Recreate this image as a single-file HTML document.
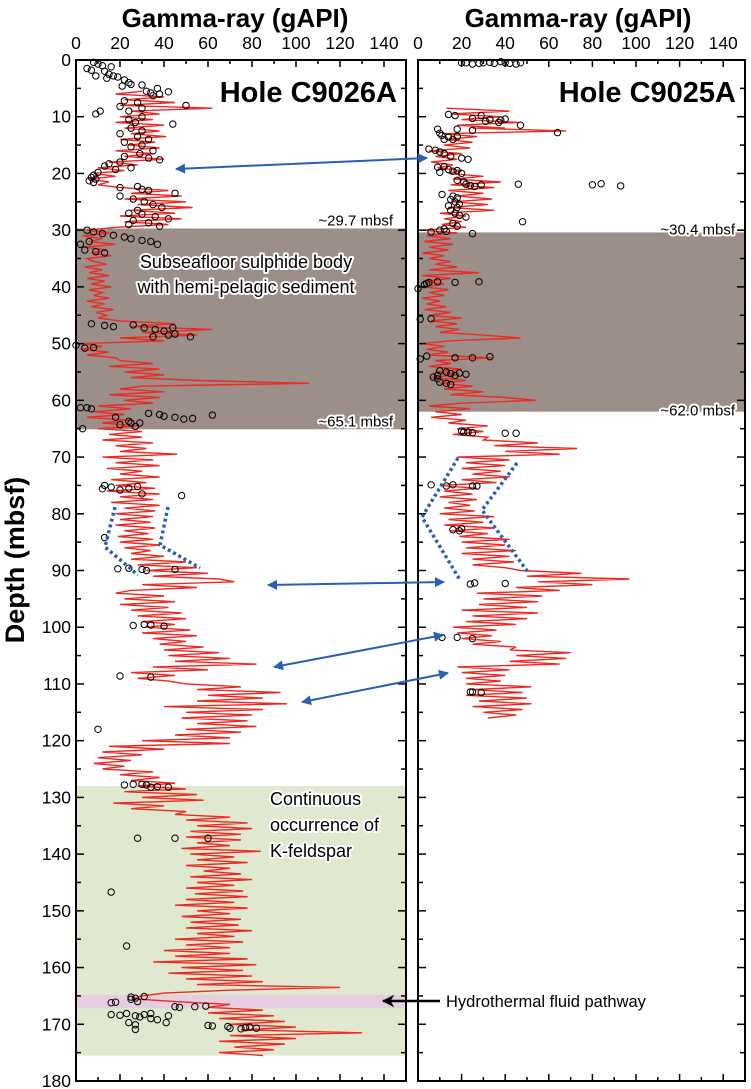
<!DOCTYPE html>
<html><head><meta charset="utf-8">
<style>
html,body{margin:0;padding:0;background:#fff;}
svg{display:block;font-family:"Liberation Sans",Arial,sans-serif;}
.halo{paint-order:stroke;stroke:#fff;stroke-width:4px;stroke-linejoin:round;}
</style></head>
<body>
<svg id="chart" width="751" height="1089" viewBox="0 0 751 1089" xmlns="http://www.w3.org/2000/svg">
</svg>
<script>
// ---- data ----
const xTicks = [0,20,40,60,80,100,120,140];
const yTicks = [0,10,20,30,40,50,60,70,80,90,100,110,120,130,140,150,160,170,180];
// shaded zones [top, bottom] in mbsf
const sulphideLeft = [29.7, 65.1];
const sulphideRight = [30.4, 62.0];
const kfeldsparZone = [128, 175.5];
const fluidZone = [164.8, 167.2];
// gamma-ray log segments: [start depth, values at 0.5 m steps]
const logLeft = [
 [5.5,[30,18,40,22,45,20,62,25,38]],
 [10,[20,35,18,40,22,38,25,41,20,36,24,38,18,35,22,40]],
 [18,[15,28,10,22,8,18,6,15,10]],
 [22.5,[20,42,25,48,22,50,28,53,25,45,20,48,22,42,18]],
 [30,[5,15,3,12,6,18,4,14,7,16,5]],
 [35.5,[8,14,4,12,6,15,5,13,7,16,6,12,8,15,5,13,7,17,9,14,10]],
 [46,[20,45,25,62,30,55,20,40]],
 [50,[3,12,2,15,5,18]],
 [53,[20,35,15,38,22,40,25,55]],
 [57,[106,30]],
 [58,[20,40,15,38,22,35,10,25]],
 [62,[8,22,5,25,12,28,10,30]],
 [66,[15,30,12,35,18,32,20,46]],
 [70,[12,35,18,38,14,30,20,38,16,32,18,36]],
 [76,[14,38,20,35,16,38,22,36]],
 [80,[18,35,20,34,18,36,22,33,19,35,20,38,22,34,25,40]],
 [88,[25,50,28,55,32,60,35,65]],
 [92,[72,30,55,25]],
 [94,[18,40,22,45,20,42,25,48]],
 [98,[28,50,30,45,32,52,30,55,35,50,38,58]],
 [104,[40,65,42,70,45,82,35,60]],
 [108,[25,45,28,42]],
 [110,[50,75,55,93,60,85,55,96]],
 [114,[40,85,50,80,48,78,55,82,50,75,45,70]],
 [120,[30,70,15,40]],
 [122,[12,30,10,25,8,22,12,35]],
 [126,[20,38,25,45,28,50]],
 [129,[22,55,30,58,17,40,25,50]],
 [133,[45,70,50,78,55,80,52,75]],
 [137,[50,75,55,70,48,84,52,72,55,78,50,70,58,75,52,80,55,72,50,76,54,78]],
 [148,[50,72,45,78,55,70,48,75,52,74,50,80,55,72,45,76,50,70]],
 [157,[40,70,45,78,35,82,48,76,42,80,50,85,55,120]],
 [164,[70,40,30,26,45,70,60,85]],
 [168,[60,90,65,95,70,100,75,130,70,100,65,95,72,90,65,85]]
];
const logRight = [
 [8.5,[13,42,15,38,20,46,18,40]],
 [12,[25,68]],
 [13,[11,27,13,25,12,24]],
 [16,[5,20,8,18,6,16,9,20]],
 [20,[14,30,16,38]],
 [22,[15,35,14,30,18,34,16,32,14,35]],
 [27,[10,22,12,20,11,22]],
 [30,[2,18,4,15,3,16,5,14,2,12]],
 [35,[5,15,8,18,5,28]],
 [38,[2,15,4,12,3,14,5,12,2,10,4,13,3,15]],
 [45,[5,20,6,18,8,19,10,30]],
 [49,[47,15,2,12,4,14]],
 [52,[5,34,8,15]],
 [54,[5,20,8,18,6,22,10,25,12,30,15,40]],
 [60,[54,20]],
 [61,[5,24,8,20,6,22]],
 [64,[14,32,18,30,16,32]],
 [67,[30,55,35,73,40,65]],
 [70,[18,42,22,40,20,38,25,42,20,36]],
 [75,[10,27,12,25,10,27,14,24,12,26]],
 [80,[10,35,14,30,12,35,15,32]],
 [84,[19,42,20,40,22,45,20,42,25,44,25,40]],
 [90,[47,75,50,97,55,80,45,65]],
 [94,[27,57,30,55,28,50]],
 [97,[20,55,25,50,22,45]],
 [100,[16,36,18,34,20,38,25,45]],
 [104,[42,70,45,68,42,65]],
 [107,[18,42,20,40,22,38]],
 [110,[22,52,25,48,22,50,28,52,25,48,30,45,32]]
];
// core sample measurements [depth, gAPI]
const coreLeft = [[0.4,8],[0.7,10],[1,12],[1.5,5],[1.8,7],[2,13],[2.5,15],[2.8,17],[3,19],[3.5,22],[4,24],[4.3,25],[2.8,9],[3.2,14],[1.2,16],
 [4.4,30],[4.6,21],[5,37],[5.5,32],[5.8,34],[6,38],[6.3,35],[5.6,42],[7.2,22],[7.5,28],[8,50],[8.5,30],[8.2,20],[9,24],[9.5,9],[9,11],
 [10,30],[10.5,24],[11,27],[11.3,44],[12,25],[12.5,30],[13,20],[13.5,28],[14,33],[14.5,22],[15,30],[15.3,25],[16,35],[16.5,29],[17,22],[17.3,33],[17.6,38],
 [18,20],[18.3,15],[18.7,13],[19,25],[19.3,18],[19.8,10],[20.3,8],[20.7,7],[21,9],[21.3,6],[21.6,8],[22.5,20],[22.3,28],
 [22.8,30],[23,33],[23.5,45],[24,20],[24.5,26],[25,31],[25.5,35],[26,39],[26.5,28],[27,24],[27.2,30],[27.6,36],[28,42],[28.3,26],[29,24],[28.7,33],[29.3,38],
 [30,5],[30.3,8],[30.6,12],[30.9,17],[31.2,22],[31.5,25],[31.8,30],[32,34],[32.5,37],[32,6],[32.5,2],[33.5,4],[33.8,9],[34,13],
 [46.5,7],[46.8,13],[47,17],[46.7,26],[47.2,31],[47.5,36],[47.8,40],[48.3,45],[48.8,52],[48.5,42],[48.8,35],[47.2,44],
 [50.3,0],[50.8,4],[50.7,8],
 [61.3,2],[61.3,5],[61.5,7],[62.5,38],[62.3,33],[62.8,40],[63,45],[63.3,49],[63.2,53],[62.6,62],[63.7,24],[64,25],[64.3,20],[64,29],[64.6,27],[63,18],[65,3],
 [75,13],[75.6,12],[75.3,16],[75.8,20],[75.5,24],[75.2,28],[76.5,30],[76.8,48],[84.2,13],
 [89.7,19],[89.6,24],[89.8,30],[90,32],[89.8,45],[99.7,26],[99.5,31],[99.6,34],[99.8,40],[108.6,20],[108.8,34],[118,10],
 [127.8,22],[127.7,26],[127.7,30],[127.8,32],[128.2,34],[128.1,37],[128.2,42],[137.2,28],[137.2,45],[137.2,60],[146.7,16],[156.2,23],
 [165.2,25],[165.4,27],[165.6,25],[165.1,31],[166.2,16],[166.1,18],[166,28],[166.9,45],[167,47],[166.9,54],[166.8,59],
 [168.3,16],[168.4,20],[168.1,23],[168.7,29],[168.3,31],[168.1,34],[168.5,27],[169,34],[169.2,37],[168.5,42],[169.7,24],[170.1,27],[169.7,41],
 [170.2,60],[170.3,62],[170.4,69],[170.7,70],[170.8,75],[170.6,77],[170.7,82],[170.5,79],[170.9,27]];
const coreRight = [[0.5,20],[0.5,22],[0.7,25],[0.6,28],[0.5,30],[0.4,33],[0.6,35],[0.3,38],[0.5,40],[0.6,42],[0.7,45],[0.5,47],
 [9.6,14],[9.8,17],[10.3,25],[9.8,29],[10.5,33],[10.8,31],[11,37],[10.6,38],[10.4,40],[11.5,47],[12.4,25],[12.8,64],
 [12.2,9],[12.9,10],[13.3,11],[13.6,14],[14,12],[14,16],[13.5,18],[12.2,18],
 [15.7,5],[15.9,8],[16.2,10],[16.5,12],[17,15],[17.3,20],[17.5,23],[18.9,9],[18.8,12],[19.3,14],[19.6,16],[19.8,10],[19.5,18],[20,20],
 [21.2,18],[21.5,21],[22.1,24],[21.9,22],[22,29],[22.3,26],[22,80],[21.8,84],[22.2,93],[21.9,46],
 [23.7,11],[24,16],[24.3,18],[24.6,15],[25,17],[25.4,19],[25.7,14],[26,18],[26.5,15],[27,17],[27.4,19],[27.7,22],[28.5,48],[28.8,16],
 [29.3,18],[29.8,12],[30,10],[30.2,13],[30.3,6],[30.6,25],
 [39.4,4],[39.2,5],[39.6,3],[40.3,0],[39.1,9],[39.2,17],[39.1,28],[45.7,1],[45.6,6],
 [52.2,4],[52.7,1],[52.5,17],[52.5,25],[52.3,33],
 [54.8,10],[55,13],[55.3,15],[55.6,17],[55.2,19],[55.9,7],[56.2,9],[55.4,22],[55.6,9],[56.8,10],[57,13],[57.2,15],
 [65.4,20],[65.6,21],[65.6,23],[65.7,25],[65.8,40],[65.8,45],
 [74.9,6],[75.1,13],[74.9,16],[75.1,25],[75.1,27],[82.8,16],[83,19],[82.6,20],
 [92.4,24],[92.2,26],[92.3,40],[101.8,11],[101.8,18],[102,25],[111.4,24],[111.4,25],[111.5,29]];

// ---- geometry ----
const TOP=60, BOT=1081;
const panels = {
  left:{x0:76, x1:406},
  right:{x0:418, x1:745}
};
const yS = d => TOP + d/180*(BOT-TOP);
const xS = (p,v) => p.x0 + v/150*(p.x1-p.x0);

const svg = document.getElementById('chart');
const NS='http://www.w3.org/2000/svg';
function mk(tag, attrs, parent){
  const e=document.createElementNS(NS,tag);
  for(const k in attrs) e.setAttribute(k,attrs[k]);
  (parent||svg).appendChild(e);
  return e;
}

function zone(p, z, fill, name){
  const r=mk('rect',{x:p.x0,y:yS(z[0]),width:p.x1-p.x0,height:yS(z[1])-yS(z[0]),fill:fill});
  
  
}
zone(panels.left, kfeldsparZone, '#e0e9cf', 'k-feldspar-zone');
zone(panels.left, fluidZone, '#e7cde0', 'fluid-pathway-zone');
zone(panels.left, sulphideLeft, '#9c8e88', 'sulphide-zone-left');
zone(panels.right, sulphideRight, '#9c8e88', 'sulphide-zone-right');

function drawLog(p, segs, name){
  const pts=[];
  segs.forEach(s=>{ s[1].forEach((v,i)=>{ pts.push(xS(p,v).toFixed(1)+','+yS(s[0]+i*0.5).toFixed(1)); }); });
  const pl=mk('polyline',{points:pts.join(' '),fill:'none',stroke:'#ec2a24','stroke-width':1.4,'stroke-linejoin':'miter'});
  
  
}
drawLog(panels.left, logLeft, 'gamma-log-c9026a');
drawLog(panels.right, logRight, 'gamma-log-c9025a');

function drawCore(p, arr, name){
  const g=mk('g',{fill:'none',stroke:'#000','stroke-width':1});
  
  
  arr.forEach(a=>{
    const c=mk('circle',{cx:xS(p,a[1]).toFixed(1),cy:yS(a[0]).toFixed(1),r:3.2},g);
    
    
  });
}
drawCore(panels.left, coreLeft, 'core-samples-c9026a');
drawCore(panels.right, coreRight, 'core-samples-c9025a');

function frame(p, name, leftLabels){
  const g=mk('g',{});
  
  
  mk('rect',{x:p.x0,y:TOP,width:p.x1-p.x0,height:BOT-TOP,fill:'none',stroke:'#000','stroke-width':2},g);
  for(let v=0; v<=150; v+=10){
    const x=xS(p,v), L=(v%20===0)?7:4;
    mk('line',{x1:x,y1:TOP,x2:x,y2:TOP+L,stroke:'#000','stroke-width':1.5},g);
    mk('line',{x1:x,y1:BOT,x2:x,y2:BOT-L,stroke:'#000','stroke-width':1.5},g);
  }
  for(let d=0; d<=180; d+=5){
    const y=yS(d), L=(d%10===0)?8:5;
    mk('line',{x1:p.x0,y1:y,x2:p.x0+L,y2:y,stroke:'#000','stroke-width':1.5},g);
    mk('line',{x1:p.x1,y1:y,x2:p.x1-L,y2:y,stroke:'#000','stroke-width':1.5},g);
  }
  xTicks.forEach(v=>{
    const t=mk('text',{x:xS(p,v),y:49,'text-anchor':'middle','font-size':17.5},g);
    t.textContent=v;
    
    
  });
  if(leftLabels){
    yTicks.forEach(d=>{
      const t=mk('text',{x:p.x0-5,y:yS(d)+6,'text-anchor':'end','font-size':17.5},g);
      t.textContent=d;
      
      
    });
  }
}
frame(panels.left,'panel-c9026a',true);
frame(panels.right,'panel-c9025a',false);

function txt(x,y,s,attrs,name){
  const t=mk('text',Object.assign({x:x,y:y},attrs));
  t.textContent=s;
  
  
  return t;
}
txt(235,27,'Gamma-ray (gAPI)',{'text-anchor':'middle','font-size':26,'font-weight':'bold'},'x-axis-title-left');
txt(578,27,'Gamma-ray (gAPI)',{'text-anchor':'middle','font-size':26,'font-weight':'bold'},'x-axis-title-right');
txt(397,102,'Hole C9026A',{'text-anchor':'end','font-size':29,'font-weight':'bold'},'hole-label-c9026a');
txt(736,102,'Hole C9025A',{'text-anchor':'end','font-size':29,'font-weight':'bold'},'hole-label-c9025a');
txt(0,0,'Depth (mbsf)',{'text-anchor':'middle','font-size':27,'font-weight':'bold',transform:'translate(24,560) rotate(-90)'},'y-axis-title');

const ann={'font-size':15,class:'halo','text-anchor':'end'};
txt(393,yS(29.7)-3,'~29.7 mbsf',ann,'depth-note-29-7');
txt(393,yS(65.1)-3,'~65.1 mbsf',ann,'depth-note-65-1');
txt(735,yS(30.4)+2,'~30.4 mbsf',ann,'depth-note-30-4');
txt(735,yS(62.0)+4,'~62.0 mbsf',ann,'depth-note-62-0');
const big={'font-size':18,class:'halo','text-anchor':'middle'};
txt(246,268,'Subseafloor sulphide body',big,'sulphide-label-line1');
txt(246,293,'with hemi-pelagic sediment',big,'sulphide-label-line2');
const kl={'font-size':18,class:'halo','text-anchor':'start'};
txt(270,805,'Continuous',kl,'kfeldspar-label-line1');
txt(270,831,'occurrence of',kl,'kfeldspar-label-line2');
txt(270,857,'K-feldspar',kl,'kfeldspar-label-line3');
txt(446,1007,'Hydrothermal fluid pathway',{'font-size':16.5,'text-anchor':'start'},'fluid-pathway-label');

const defs=mk('defs',{});
const m=mk('marker',{id:'ah',viewBox:'0 0 10 10',refX:9,refY:5,markerWidth:6,markerHeight:5,orient:'auto-start-reverse'},defs);
mk('path',{d:'M0,0 L10,5 L0,10 z',fill:'#2b5fb4'},m);
const mb=mk('marker',{id:'ahk',viewBox:'0 0 10 10',refX:9,refY:5,markerWidth:6,markerHeight:5,orient:'auto'},defs);
mk('path',{d:'M0,0 L10,5 L0,10 L3,5 z',fill:'#000'},mb);
function arrow(x1,y1,x2,y2,name){
  const l=mk('line',{x1:x1,y1:y1,x2:x2,y2:y2,stroke:'#2b5fb4','stroke-width':2,'marker-start':'url(#ah)','marker-end':'url(#ah)'});
  
  
}
arrow(176,169,427,158,'correlation-arrow-20m');
arrow(268,585,444,582,'correlation-arrow-92m');
arrow(274,667,443,635,'correlation-arrow-107m');
arrow(302,702,448,673,'correlation-arrow-113m');
const fa=mk('line',{x1:440,y1:1001,x2:383,y2:1001,stroke:'#000','stroke-width':2.5,'marker-end':'url(#ahk)'});



function dotted(pts,name){
  const p=mk('polyline',{points:pts,fill:'none',stroke:'#2b5fb4','stroke-width':3.5,'stroke-dasharray':'3 3'});
  
  
}
dotted('115,507 105,547 138,575','trend-line-left-a');
dotted('168,507 160,545 200,568','trend-line-left-b');
dotted('458,458 422,517 460,580','trend-line-right-a');
dotted('517,463 482,510 528,572','trend-line-right-b');
</script>
</body></html>
